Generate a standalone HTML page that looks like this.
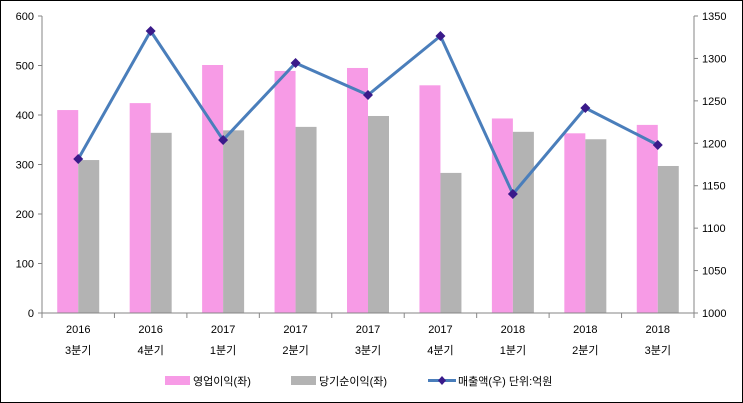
<!DOCTYPE html><html><head><meta charset="utf-8"><style>body{margin:0}svg{display:block}text{font-family:"Liberation Sans","Noto Sans CJK KR",sans-serif;font-size:11px;fill:#000}</style></head><body>
<svg width="743" height="403" xmlns="http://www.w3.org/2000/svg">
<rect x="0.5" y="0.5" width="742" height="402" fill="#fff" stroke="#000"/>
<g id="bars"></g>
<g stroke="#868686" fill="none">
<line x1="42" y1="16" x2="42" y2="313"/><line x1="694" y1="16" x2="694" y2="313"/><line x1="42" y1="313" x2="694" y2="313"/>
</g>
<g id="ticks" stroke="#868686"></g>
<g id="labels"></g>
<polyline id="line" fill="none" stroke="#4a7ebb" stroke-width="3" stroke-linejoin="round"/>
<g id="marks" fill="#3a1a8a"></g>
<rect x="165" y="376" width="25" height="9" fill="#f79be6"/>
<text x="193" y="385">영업이익(좌)</text>
<rect x="291" y="376" width="25" height="9" fill="#b3b3b3"/>
<text x="319" y="385">당기순이익(좌)</text>
<line x1="428" y1="380.5" x2="456" y2="380.5" stroke="#4a7ebb" stroke-width="3"/>
<path d="M442 376l4 4.5-4 4.5-4-4.5z" fill="#3a1a8a"/>
<text x="458" y="385">매출액(우)  단위:억원</text>
<script>
var ns="http://www.w3.org/2000/svg";function el(p,t,a,tx){var e=document.createElementNS(ns,t);for(var k in a)e.setAttribute(k,a[k]);if(tx)e.textContent=tx;document.getElementById(p).appendChild(e);}
var P=[410,424,501,489,495,460,393,363,380],G=[309,364,369,376,398,283,366,351,297],L=[159,31,140,63,95,36,194,108,145];
var yrs=["2016","2016","2017","2017","2017","2017","2018","2018","2018"],q=["3","4","1","2","3","4","1","2","3"];
var w=652/9,pts=[];
for(var i=0;i<9;i++){var c=42+w/2+w*i;
el("bars","rect",{x:c-21,y:313-P[i]*0.495,width:21,height:P[i]*0.495,fill:"#f79be6"});
el("bars","rect",{x:c,y:313-G[i]*0.495,width:21,height:G[i]*0.495,fill:"#b3b3b3"});
pts.push(c+","+L[i]);el("marks","path",{d:"M"+c+" "+(L[i]-5)+"l5 5-5 5-5-5z"});
el("labels","text",{x:c,y:333,"text-anchor":"middle"},yrs[i]);
el("labels","text",{x:c,y:354,"text-anchor":"middle","font-size":"12"},q[i]+"분기");}
document.getElementById("line").setAttribute("points",pts.join(" "));
for(var i=0;i<=9;i++){var x=42+w*i;el("ticks","line",{x1:x,y1:313,x2:x,y2:318});}
for(var i=0;i<=6;i++){var y=313-i*49.5;el("ticks","line",{x1:38,y1:y,x2:42,y2:y});el("labels","text",{x:34,y:y+4,"text-anchor":"end"},String(i*100));}
for(var i=0;i<=7;i++){var y=313-i*297/7;el("ticks","line",{x1:694,y1:y,x2:698,y2:y});el("labels","text",{x:702,y:y+4},String(1000+i*50));}
</script>
</svg></body></html>
